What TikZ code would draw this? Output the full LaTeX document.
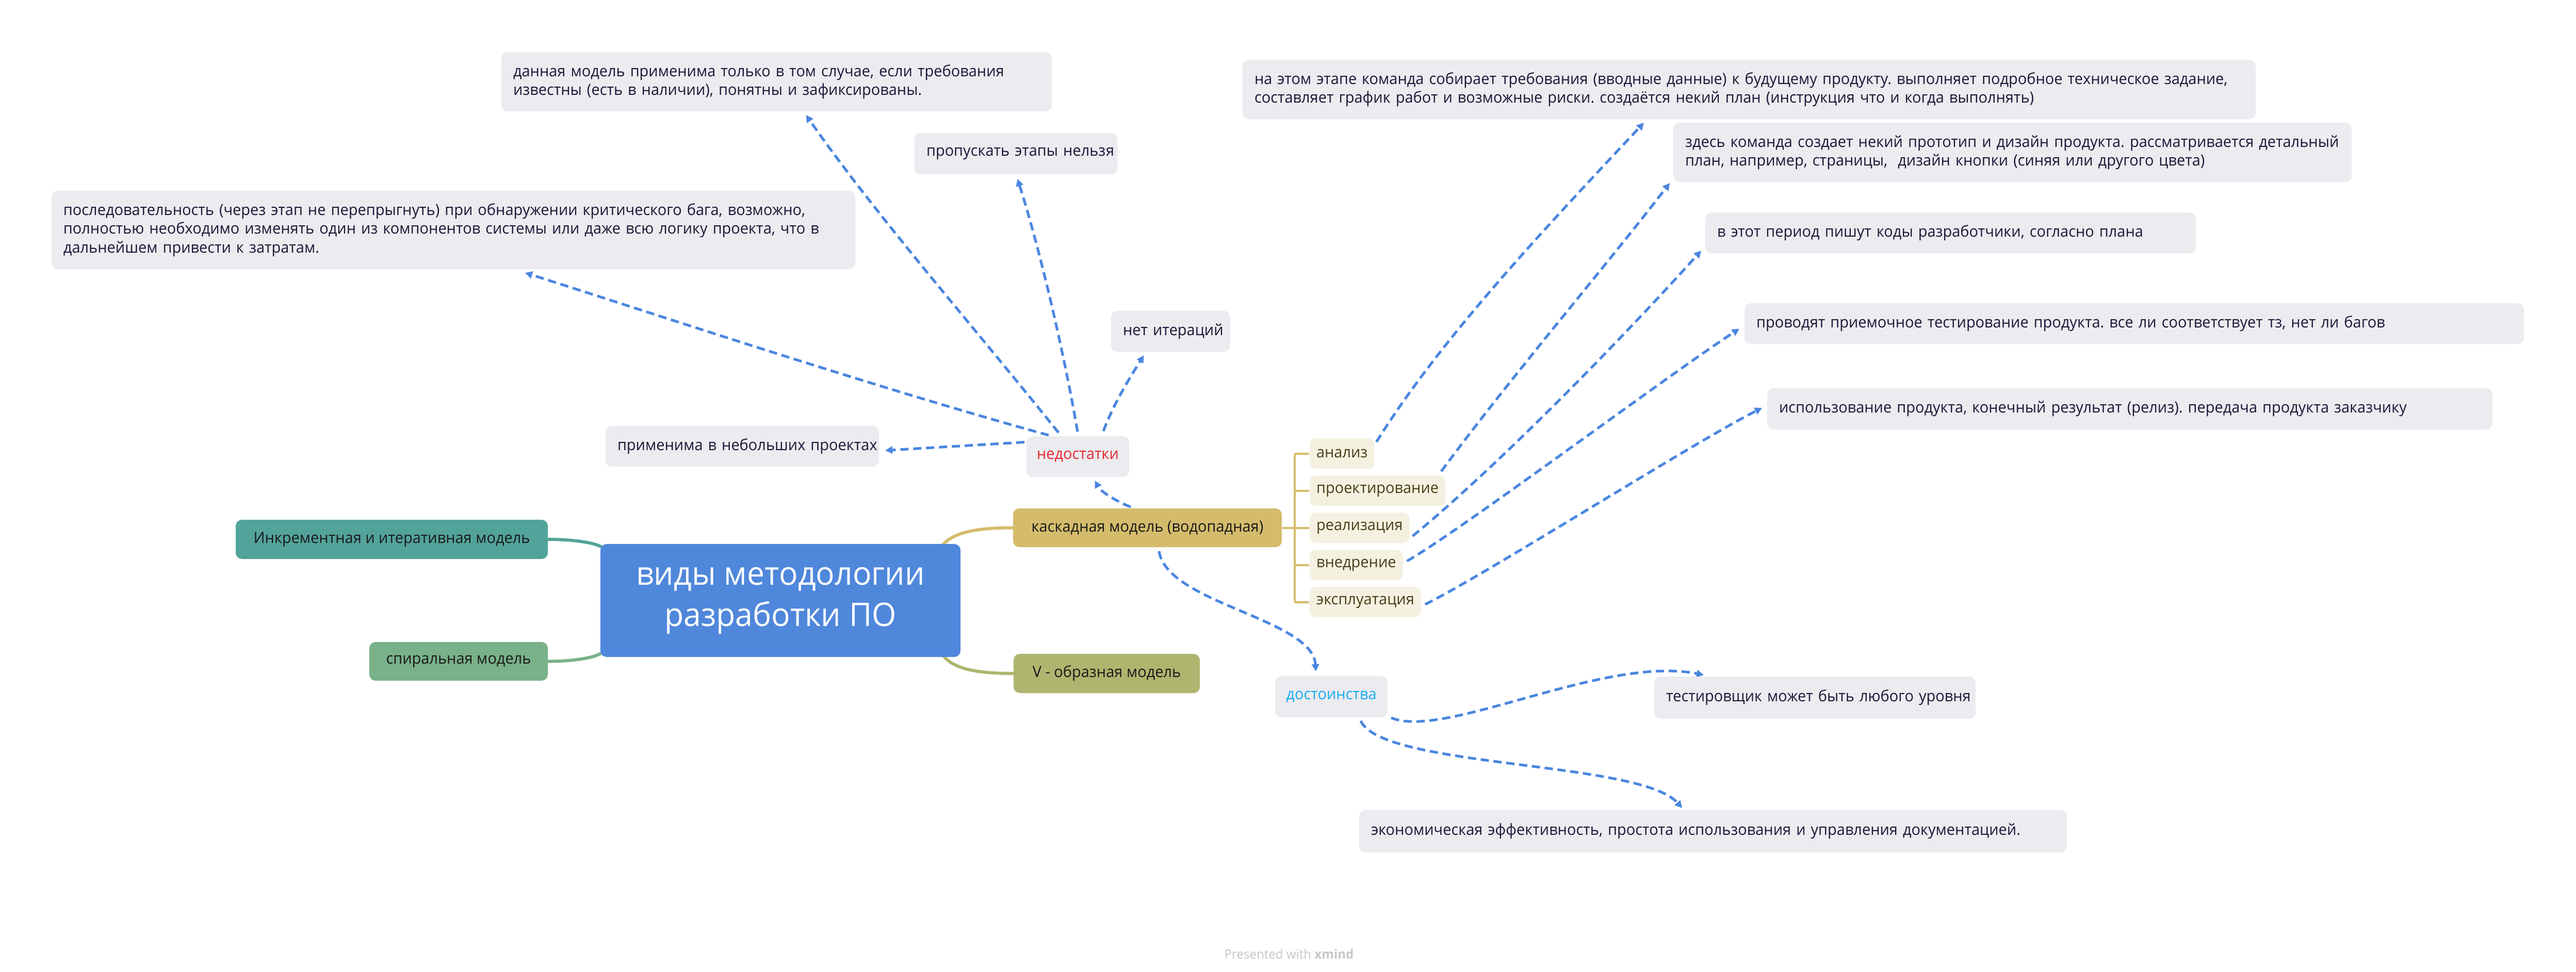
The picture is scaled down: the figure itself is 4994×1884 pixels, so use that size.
\documentclass[tikz,border=0pt]{standalone}
\usepackage{fontspec}
\setmainfont{Open Sans}[FakeStretch=0.965]
\usetikzlibrary{arrows.meta,calc,backgrounds}
\definecolor{cblue}{HTML}{4F87DB}
\definecolor{cteal}{HTML}{52A39A}
\definecolor{cgreen}{HTML}{79B189}
\definecolor{cgold}{HTML}{D4BC6C}
\definecolor{colive}{HTML}{AFB56E}
\definecolor{cbeige}{HTML}{F5F1E1}
\definecolor{cbrown}{HTML}{4A3E16}
\definecolor{cnote}{HTML}{ECEBEF}
\definecolor{cnavy}{HTML}{1B1838}
\definecolor{cdash}{HTML}{4A86E0}
\definecolor{cred}{HTML}{E52A2F}
\definecolor{ccyan}{HTML}{14ADEF}
\definecolor{cwm}{HTML}{C8C8C8}
\newcommand\fnote{\fontsize{6.0pt}{7.3pt}\selectfont}
\newcommand\fbig{\fontsize{12.6pt}{16pt}\selectfont}
\newcommand\fwm{\fontsize{5pt}{6pt}\selectfont}
\frenchspacing
\begin{document}
\begin{tikzpicture}[x=0.2pt,y=-0.2pt,
  box/.style={rounded corners=2.4pt, inner ysep=0pt, anchor=center},
  note/.style={box, fill=cnote, text=cnavy, font=\fnote, align=left, inner xsep=4.6pt},
  topic/.style={box, font=\fnote, text=black!90, align=center, inner xsep=0pt},
  childbox/.style={box, anchor=west, fill=cbeige, text=cbrown, font=\fnote, inner xsep=2.6pt, minimum height=11.8pt},
  mline/.style={line width=1.2pt, line cap=round},
  bline/.style={draw=cgold, line width=0.8pt},
  dconn/.style={draw=cdash, line width=1pt, dash pattern=on 3.2pt off 1.8pt, -{Triangle[length=2.8pt,width=2.8pt]}}
]
\useasboundingbox (0,0) rectangle (4994,1884);

% notes (left side)
\node[note, text width=204.2pt, minimum height=23pt] (dannaya) at (1505.5,158.5)
  {\mbox{данная модель применима только в том случае, если требования}\\\mbox{известны (есть в наличии), понятны и зафиксированы.}};
\node[note, text width=69.4pt, minimum height=16pt] (propusk) at (1969.5,298) {\mbox{пропускать этапы нельзя}};
\node[note, text width=302.4pt, minimum height=30.4pt] (posled) at (879,446)
  {\mbox{последовательность (через этап не перепрыгнуть) при обнаружении критического бага, возможно,}\\\mbox{полностью необходимо изменять один из компонентов системы или даже всю логику проекта, что в}\\\mbox{дальнейшем привести к затратам.}};
\node[note, text width=37pt, minimum height=15.8pt] (netiter) at (2269.5,642.5) {\mbox{нет итераций}};
\node[note, text width=96.8pt, minimum height=15.8pt] (prim) at (1439,865.5) {\mbox{применима в небольших проектах}};
\node[topic, fill=cnote, text=cred, minimum width=39.8pt, minimum height=15.8pt] (nedo) at (2089.5,885.5) {недостатки};

% central and main topics
\node[box, fill=cblue, text=white, font=\fbig, align=center, minimum width=139.6pt, minimum height=43.8pt] (central) at (1513,1164.5) {виды методологии\\разработки ПО};
\node[topic, fill=cteal, minimum width=121pt, minimum height=15.2pt] (inkr) at (759.5,1046) {Инкрементная и итеративная модель};
\node[topic, fill=cgreen, minimum width=69.2pt, minimum height=15pt] (spiral) at (889,1282.5) {спиральная модель};
\node[topic, fill=cgold, minimum width=104.2pt, minimum height=15pt] (kaskad) at (2224.5,1023.5) {каскадная модель (водопадная)};
\node[topic, fill=colive, minimum width=72.2pt, minimum height=15.2pt] (V) at (2145.5,1306) {V - образная модель};

% waterfall stages
\node[childbox] (analiz) at (2538,879.5) {анализ};
\node[childbox] (proekt) at (2538,951.5) {проектирование};
\node[childbox] (realiz) at (2538,1023.5) {реализация};
\node[childbox] (vnedr) at (2538,1095.5) {внедрение};
\node[childbox] (eksp) at (2538,1167.5) {эксплуатация};

% notes (right side)
\node[note, text width=383.6pt, minimum height=23pt] (naetom) at (3391,173.5)
  {\mbox{на этом этапе команда собирает требования (вводные данные) к будущему продукту. выполняет подробное техническое задание,}\\\mbox{составляет график работ и возможные риски. создаётся некий план (инструкция что и когда выполнять)}};
\node[note, text width=253.8pt, minimum height=23pt] (zdes) at (3901.5,295.5)
  {\mbox{здесь команда создает некий прототип и дизайн продукта. рассматривается детальный}\\\mbox{план, например, страницы,\ \ дизайн кнопки (синяя или другого цвета)}};
\node[note, text width=181pt, minimum height=15.8pt] (vetot) at (3781.5,451.5) {\mbox{в этот период пишут коды разработчики, согласно плана}};
\node[note, text width=293pt, minimum height=15.8pt] (provod) at (4137.5,627.5) {\mbox{проводят приемочное тестирование продукта. все ли соответствует тз, нет ли багов}};
\node[note, text width=272pt, minimum height=16pt] (ispolz) at (4129,793) {\mbox{использование продукта, конечный результат (релиз). передача продукта заказчику}};

% advantages
\node[topic, fill=cnote, text=ccyan, minimum width=43.6pt, minimum height=16pt] (dost) at (2581,1351) {достоинства};
\node[note, text width=115.4pt, minimum height=16.4pt] (test) at (3518.5,1353) {\mbox{тестировщик может быть любого уровня}};
\node[note, text width=265.2pt, minimum height=16.4pt] (ekon) at (3321,1612) {\mbox{экономическая эффективность, простота использования и управления документацией.}};

\node[font=\fwm, text=cwm, inner sep=0pt] (wm) at (2499,1850) {Presented with \textbf{xmind}};

\begin{pgfonlayer}{background}
\fill[white] (0,0) rectangle (4994,1884);
% main branches
\draw[mline, draw=cgold] ($(central.north east)+(-38,6)$) .. controls (1845,1033) and (1890,1023.5) .. (kaskad.west);
\draw[mline, draw=colive] ($(central.south east)+(-36,-6)$) .. controls (1845,1296) and (1890,1306) .. (V.west);
\draw[mline, draw=cteal] ($(central.north west)+(2,6)$) .. controls (1150,1052) and (1110,1046) .. (inkr.east);
\draw[mline, draw=cgreen] ($(central.south west)+(2,-8)$) .. controls (1150,1276) and (1110,1282.5) .. (spiral.east);
% bracket
\coordinate (br) at (2510,1023.5);
\draw[bline] (kaskad.east) -- (br);
\draw[bline] (br |- analiz.west) -- (br |- eksp.west);
\foreach \n in {analiz,proekt,realiz,vnedr,eksp} \draw[bline] (br |- \n.west) -- (\n.west);
% relationships
\draw[dconn] ($(nedo.west)+(-3,-28)$) -- ($(prim.east)+(11,8)$);
\draw[dconn] ($(nedo.north west)+(44,-1)$) .. controls (1696,751) and (1310,622) .. ($(posled.south)+(139,6)$);
\draw[dconn] ($(nedo.north west)+(63,-6)$) .. controls (1885,630) and (1700,420) .. ($(dannaya.south)+(57,6)$);
\draw[dconn] ($(nedo.north west)+(100,-8)$) .. controls (2062,680) and (2015,480) .. ($(propusk.south)+(3,8)$);
\draw[dconn] ($(nedo.north west)+(150,-9)$) .. controls (2160,780) and (2195,725) .. ($(netiter.south)+(-52,6)$);
\draw[dconn] ($(kaskad.north west)+(229,-2)$) .. controls (2170,975) and (2135,955) .. ($(nedo.south)+(33,6)$);
\draw[dconn] ($(kaskad.south west)+(284,7)$) .. controls (2262,1170) and (2545,1200) .. ($(dost.north)+(-30,-8)$);
\draw[dconn] ($(dost.south east)+(6,0)$) .. controls (2800,1435) and (3110,1270) .. ($(test.north west)+(97,-2)$);
\draw[dconn] ($(dost.south west)+(167,6)$) .. controls (2680,1490) and (3180,1475) .. ($(ekon.north west)+(627,-3)$);
\draw[dconn] ($(analiz.north east)+(3,8)$) .. controls (2792,658) and (2993,445) .. ($(naetom.south west)+(779,6)$);
\draw[dconn] ($(proekt.north east)+(-9,-7)$) .. controls (2930,730) and (3110,520) .. ($(zdes.south west)+(-6,1)$);
\draw[dconn] ($(realiz.east)+(5,16)$) .. controls (2909,900) and (3160,640) .. ($(vetot.south west)+(-7,-6)$);
\draw[dconn] ($(vnedr.east)+(7,-7.5)$) .. controls (2830,1030) and (3230,730) .. ($(provod.west)+(-9,10)$);
\draw[dconn] ($(eksp.east)+(7,4.5)$) .. controls (2870,1120) and (3280,860) .. ($(ispolz.west)+(-9,-2)$);
\end{pgfonlayer}
\end{tikzpicture}
\end{document}
